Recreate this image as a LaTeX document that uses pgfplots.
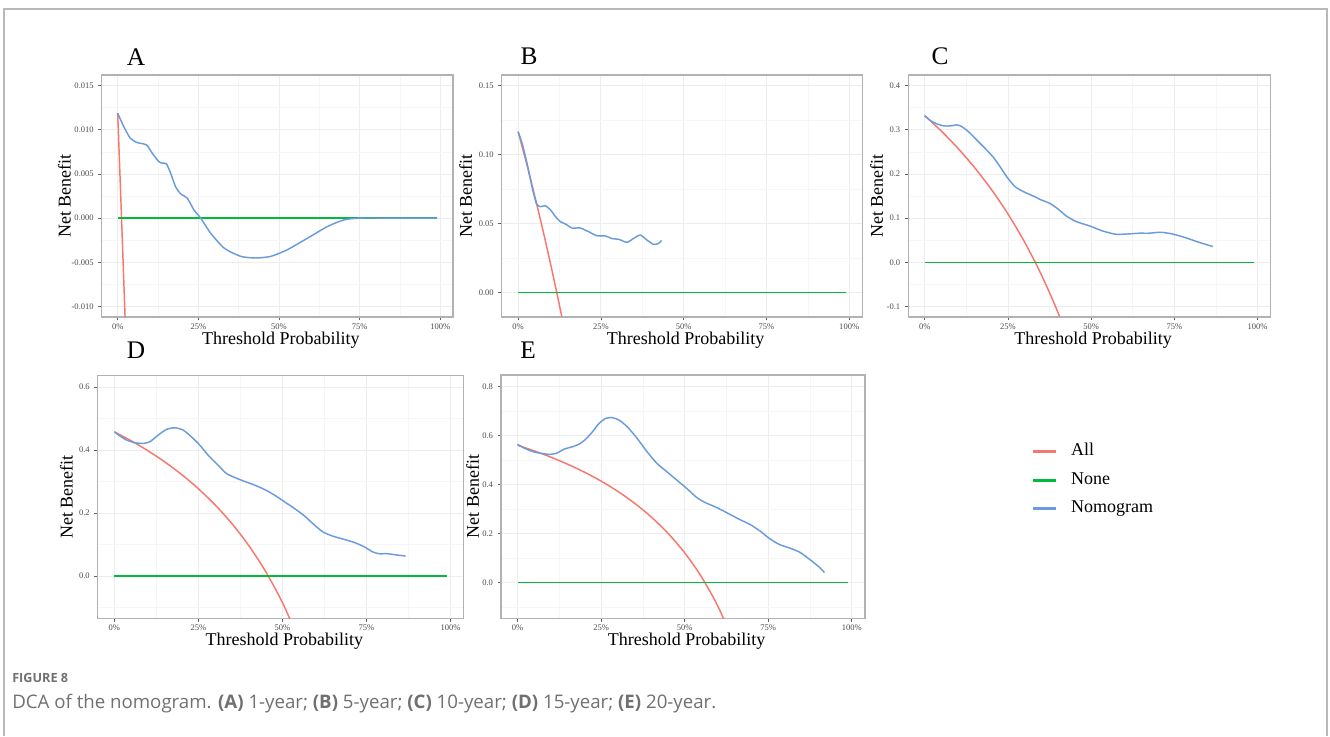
\documentclass[border=0pt]{standalone}
\usepackage{fontspec}
\setmainfont{Liberation Serif}
\newfontfamily\capfont{Open Sans}
\usepackage{pgfplots}
\pgfplotsset{compat=1.18}

\definecolor{cAll}{HTML}{F8766D}
\definecolor{cNone}{HTML}{00BA38}
\definecolor{cNomo}{HTML}{6A9BDC}
\definecolor{capgray}{HTML}{707070}

\pgfplotsset{
  dca/.style={
    scale only axis, anchor=south west,
    xmin=-0.0495, xmax=1.0395,
    xtick={0,0.25,0.5,0.75,1},
    xticklabels={0\%,25\%,50\%,75\%,100\%},
    minor xtick={0.125,0.375,0.625,0.875},
    scaled ticks=false,
    grid=both,
    major grid style={gray!14, line width=0.6pt},
    minor grid style={gray!7, line width=0.4pt},
    axis line style={gray!60, line width=0.9pt},
    tick align=outside, xtick pos=left, ytick pos=left,
    major tick length=2.5pt, minor tick length=0pt,
    tick style={gray!75!black, line width=0.5pt},
    tick label style={font=\fontsize{6.4}{8}\selectfont, text=black!70},
    xticklabel style={yshift=1pt},
    label style={font=\fontsize{13.5}{15}\selectfont},
    xlabel={Threshold Probability}, ylabel={Net Benefit},
    xlabel style={at={(axis description cs:0.51,-0.094)}, anchor=center},
    every axis plot/.append style={line width=1.1pt},
  },
}

\begin{document}
\begin{tikzpicture}
\path[use as bounding box] (0,0) rectangle (997.5pt,552pt);
% outer frame
\draw[gray!55, line width=1.3pt] (3pt,0pt) -- (3pt,545.25pt) -- (995.25pt,545.25pt) -- (995.25pt,0pt);

% ---- A: 1-year
\begin{axis}[dca, at={(76.3pt,314.25pt)}, width=263.5pt, height=181.5pt,
  ymin=-0.0112, ymax=0.0162,
  ytick={-0.01,-0.005,0,0.005,0.01,0.015},
  yticklabels={-0.010,-0.005,0.000,0.005,0.010,0.015},
  minor ytick={-0.0075,-0.0025,0.0025,0.0075,0.0125},
  ylabel style={at={(axis description cs:-0.106,0.5)}, anchor=center}]
\addplot[cAll] coordinates {(0,0.0119) (0.01,0.00192) (0.02,-0.00827) (0.03,-0.01866)};
\addplot[cNone] coordinates {(0,0) (0.99,0)};
\addplot[cNomo, smooth, tension=0.4] coordinates {
  (0,0.01187) (0.0187,0.01036) (0.039,0.00904) (0.060,0.00855) (0.089,0.00829)
  (0.107,0.00735) (0.127,0.0064) (0.138,0.00622) (0.151,0.00614) (0.164,0.00509)
  (0.179,0.00358) (0.195,0.00275) (0.2155,0.00226) (0.236,0.00094) (0.257,0)
  (0.288,-0.0017) (0.330,-0.0034) (0.381,-0.00433) (0.428,-0.00452) (0.475,-0.00433)
  (0.526,-0.00358) (0.589,-0.00226) (0.651,-0.00094) (0.703,-0.00019) (0.754,0)
  (0.85,0) (0.99,0)};
\end{axis}

% ---- B: 5-year
\begin{axis}[dca, at={(376.3pt,314.25pt)}, width=270.4pt, height=181.5pt,
  ymin=-0.0179, ymax=0.1578,
  ytick={0,0.05,0.1,0.15},
  yticklabels={0.00,0.05,0.10,0.15},
  minor ytick={0.025,0.075,0.125},
  ylabel style={at={(axis description cs:-0.1,0.5)}, anchor=center}]
\addplot[cAll, smooth] coordinates {(0,0.1166) (0.02,0.0986) (0.04,0.0798) (0.06,0.0602)
  (0.08,0.0398) (0.10,0.0184) (0.12,-0.0039) (0.14,-0.0272)};
\addplot[cNone] coordinates {(0,0) (0.99,0)};
\addplot[cNomo, smooth, tension=0.4] coordinates {
  (0,0.1166) (0.012,0.1082) (0.027,0.0936) (0.042,0.0767) (0.055,0.0646)
  (0.067,0.0622) (0.082,0.0629) (0.098,0.0598) (0.113,0.0549) (0.128,0.0513)
  (0.143,0.0496) (0.163,0.0467) (0.188,0.0467) (0.213,0.0440) (0.238,0.0411)
  (0.264,0.0409) (0.284,0.0390) (0.304,0.0385) (0.329,0.0363) (0.349,0.0392)
  (0.369,0.0416) (0.389,0.0380) (0.409,0.0348) (0.425,0.0356) (0.433,0.0377)};
\end{axis}

% ---- C: 10-year
\begin{axis}[dca, at={(681.2pt,314.25pt)}, width=271.8pt, height=181.5pt,
  ymin=-0.124, ymax=0.424,
  ytick={-0.1,0,0.1,0.2,0.3,0.4},
  yticklabels={-0.1,0.0,0.1,0.2,0.3,0.4},
  minor ytick={-0.05,0.05,0.15,0.25,0.35},
  ylabel style={at={(axis description cs:-0.087,0.5)}, anchor=center}]
\addplot[cAll, smooth] coordinates {(0,0.332) (0.05,0.2968) (0.10,0.2578) (0.15,0.2141)
  (0.20,0.165) (0.25,0.1093) (0.30,0.0457) (0.35,-0.0277) (0.40,-0.1133) (0.45,-0.2145)};
\addplot[cNone] coordinates {(0,0) (0.99,0)};
\addplot[cNomo, smooth, tension=0.4] coordinates {
  (0,0.332) (0.017,0.3208) (0.037,0.3132) (0.057,0.3087) (0.077,0.3087)
  (0.097,0.3109) (0.111,0.3072) (0.131,0.2958) (0.156,0.2770) (0.181,0.2581)
  (0.206,0.2377) (0.226,0.2166) (0.246,0.1940) (0.271,0.1713) (0.296,0.1600)
  (0.325,0.1502) (0.350,0.1411) (0.375,0.1336) (0.400,0.1208) (0.425,0.1049)
  (0.455,0.0921) (0.495,0.0823) (0.534,0.0709) (0.574,0.0634) (0.614,0.0642)
  (0.644,0.0657) (0.674,0.0657) (0.708,0.0679) (0.743,0.0642) (0.783,0.0558)
  (0.823,0.0453) (0.866,0.0355)};
\end{axis}

% ---- D: 15-year
\begin{axis}[dca, at={(73.3pt,88.3pt)}, width=274.5pt, height=181.9pt,
  ymin=-0.134, ymax=0.636,
  ytick={0,0.2,0.4,0.6},
  yticklabels={0.0,0.2,0.4,0.6},
  minor ytick={-0.1,0.1,0.3,0.5},
  ylabel style={at={(axis description cs:-0.086,0.5)}, anchor=center}]
\addplot[cAll, smooth] coordinates {(0,0.458) (0.05,0.4295) (0.10,0.3978) (0.15,0.3624)
  (0.20,0.3225) (0.25,0.2773) (0.30,0.2257) (0.35,0.1662) (0.40,0.0967) (0.45,0.0145)
  (0.50,-0.084) (0.55,-0.2044)};
\addplot[cNone] coordinates {(0,0) (0.99,0)};
\addplot[cNomo, smooth, tension=0.4] coordinates {
  (0,0.458) (0.0168,0.4444) (0.0366,0.4317) (0.0613,0.4233) (0.0860,0.4212)
  (0.1057,0.4265) (0.1304,0.4476) (0.1551,0.4656) (0.1798,0.4709) (0.2045,0.4635)
  (0.2292,0.4423) (0.2539,0.4159) (0.2787,0.3841) (0.3083,0.3524) (0.3330,0.3259)
  (0.3577,0.3132) (0.3824,0.3026) (0.4170,0.2889) (0.4466,0.2751) (0.4763,0.2571)
  (0.5059,0.2360) (0.5356,0.2148) (0.5652,0.1915) (0.5899,0.1672) (0.6196,0.1407)
  (0.6492,0.1270) (0.6838,0.1164) (0.7134,0.1069) (0.7431,0.0931) (0.7678,0.0772)
  (0.7875,0.0709) (0.8123,0.0709) (0.8419,0.0667) (0.8666,0.0635)};
\end{axis}

% ---- E: 20-year (carries the legend)
\begin{axis}[dca, at={(375.75pt,88.3pt)}, width=273pt, height=182.5pt,
  ymin=-0.145, ymax=0.848,
  ytick={0,0.2,0.4,0.6,0.8},
  yticklabels={0.0,0.2,0.4,0.6,0.8},
  minor ytick={-0.1,0.1,0.3,0.5,0.7},
  ylabel style={at={(axis description cs:-0.078,0.5)}, anchor=center},
  legend style={at={(1.445,0.568)}, anchor=west, draw=none, fill=none,
    font=\fontsize{13.5}{15}\selectfont, row sep=9.3pt,
    nodes={inner sep=0pt, text height=9pt, text depth=3pt},
    /tikz/every odd column/.append style={column sep=10.5pt}},
  legend cell align=left,
  legend image code/.code={\draw[#1, line width=2.2pt] (0pt,0pt) -- (17.25pt,0pt);}]
\addplot[cAll, smooth] coordinates {(0,0.561) (0.05,0.5379) (0.10,0.5122) (0.15,0.4835)
  (0.20,0.4513) (0.25,0.4147) (0.30,0.3729) (0.35,0.3246) (0.40,0.2683) (0.45,0.2018)
  (0.50,0.122) (0.55,0.0244) (0.60,-0.0975) (0.65,-0.2543)};
\addlegendentry{All}
\addplot[cNone] coordinates {(0,0) (0.99,0)};
\addlegendentry{None}
\addplot[cNomo, smooth, tension=0.4] coordinates {
  (0,0.5646) (0.0217,0.5483) (0.0464,0.5347) (0.0711,0.5279) (0.0958,0.5238)
  (0.1156,0.5279) (0.1403,0.5456) (0.1650,0.5551) (0.1848,0.5660) (0.2045,0.5864)
  (0.2243,0.6163) (0.2441,0.6503) (0.2638,0.6707) (0.2836,0.6735) (0.3034,0.6639)
  (0.3281,0.6367) (0.3577,0.5891) (0.3874,0.5347) (0.4170,0.4871) (0.4466,0.4531)
  (0.4763,0.4190) (0.5059,0.3850) (0.5356,0.3483) (0.5603,0.3279) (0.5949,0.3075)
  (0.6296,0.2830) (0.6640,0.2585) (0.6986,0.2354) (0.7283,0.2082) (0.7530,0.1810)
  (0.7826,0.1565) (0.8172,0.1401) (0.8468,0.1224) (0.8765,0.0925) (0.9012,0.0653)
  (0.9180,0.0422)};
\addlegendentry{Nomogram}
\end{axis}

% panel tags
\begin{scope}[every node/.style={font=\fontsize{19}{21}\selectfont, inner sep=0pt}]
\node at (102pt,509.5pt) {A};
\node at (396.75pt,509.5pt) {B};
\node at (705pt,509.5pt) {C};
\node at (102pt,289.5pt) {D};
\node at (396pt,289.5pt) {E};
\end{scope}

% caption
\node[anchor=west, inner sep=0pt, text=capgray, font=\capfont\fontsize{9.5}{11}\selectfont\bfseries]
  at (9pt,43.5pt) {FIGURE 8};
\node[anchor=west, inner sep=0pt, text=capgray, font=\capfont\fontsize{14}{16}\selectfont]
  at (9pt,24pt) {DCA of the nomogram. \textbf{(A)} 1-year; \textbf{(B)} 5-year; \textbf{(C)} 10-year; \textbf{(D)} 15-year; \textbf{(E)} 20-year.};
\end{tikzpicture}
\end{document}
